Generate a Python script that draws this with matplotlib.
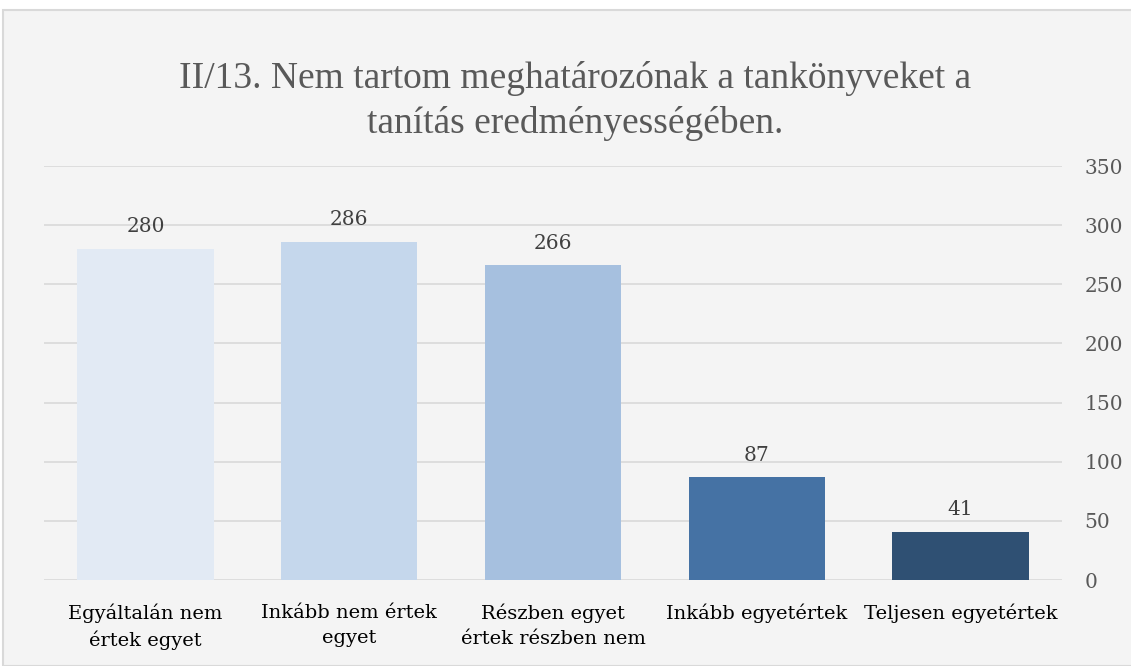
import matplotlib
matplotlib.use("Agg")
import matplotlib.pyplot as plt
from matplotlib.patches import Rectangle

categories = ["Egyáltalán nem\nértek egyet", "Inkább nem értek\negyet",
              "Részben egyet\nértek részben nem", "Inkább egyetértek",
              "Teljesen egyetértek"]
values = [280, 286, 266, 87, 41]
yticks = [0, 50, 100, 150, 200, 250, 300, 350]
colors = ["#E2EAF4", "#C5D7EC", "#A6C0DF", "#4572A4", "#2F5073"]
title = "II/13. Nem tartom meghatározónak a tankönyveket a\ntanítás eredményességében."

W, H = 1131, 666
fig = plt.figure(figsize=(W / 100, H / 100), dpi=100)
fig.patch.set_facecolor("white")
fig.patches.append(Rectangle((3 / W, 0), 1.2, 1 - 10 / H, transform=fig.transFigure,
                             facecolor="#F4F4F4", edgecolor="#D9D9D9", linewidth=1.5,
                             zorder=-10))

ax = fig.add_axes([43.6 / W, 1 - 580 / H, (1062.4 - 43.6) / W, (580 - 166) / H])
ax.set_facecolor("none")
x = range(len(categories))
bars = ax.bar(x, values, width=0.67, color=colors, zorder=3)
ax.set_xlim(-0.5, len(categories) - 0.5)
ax.set_ylim(0, 350)
ax.set_yticks(yticks)
ax.yaxis.tick_right()
ax.grid(axis="y", color="#D9D9D9", linewidth=1.2, zorder=0)
for s in ax.spines.values():
    s.set_visible(False)
ax.tick_params(axis="y", length=0, pad=16, labelcolor="#595959", labelsize=14.5)
ax.tick_params(axis="x", length=0, pad=17, labelcolor="#000000", labelsize=14)
for lab in ax.get_yticklabels():
    lab.set_fontfamily("DejaVu Serif")
ax.set_xticks(list(x))
ax.set_xticklabels(categories, fontfamily="DejaVu Serif", linespacing=1.5)

for b, v in zip(bars, values):
    ax.annotate(str(v), (b.get_x() + b.get_width() / 2, v), xytext=(0, 9),
                textcoords="offset points", ha="center", va="bottom",
                fontsize=14.5, color="#404040", fontfamily="DejaVu Serif")

fig.text(575 / W, 1 - 101 / H, title, ha="center", va="center", fontsize=27,
         color="#595959", fontfamily="Liberation Serif", linespacing=1.35)

fig.savefig("out.png", dpi=100, facecolor=fig.get_facecolor())
